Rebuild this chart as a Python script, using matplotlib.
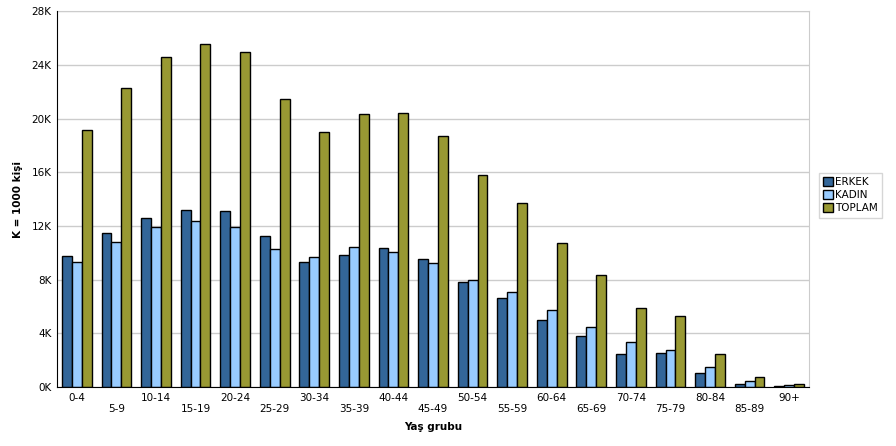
import matplotlib
matplotlib.use("Agg")
import matplotlib.pyplot as plt
import numpy as np

# age groups and population (thousands)
age_groups = ["0-4", "5-9", "10-14", "15-19", "20-24", "25-29", "30-34", "35-39",
              "40-44", "45-49", "50-54", "55-59", "60-64", "65-69", "70-74",
              "75-79", "80-84", "85-89", "90+"]
erkek = [9780, 11480, 12620, 13220, 13140, 11280, 9310, 9830, 10360, 9540,
         7820, 6620, 4980, 3790, 2440, 2520, 1020, 200, 70]
kadin = [9330, 10810, 11950, 12370, 11950, 10280, 9690, 10460, 10060, 9240,
         7970, 7070, 5730, 4460, 3340, 2760, 1490, 420, 150]
toplam = [19170, 22310, 24620, 25590, 25000, 21490, 19020, 20360, 20440, 18720,
          15810, 13720, 10730, 8340, 5880, 5280, 2440, 750, 200]
y_ticks = [0, 4000, 8000, 12000, 16000, 20000, 24000, 28000]

series = [("ERKEK", erkek, "#336699"),
          ("KADIN", kadin, "#99ccff"),
          ("TOPLAM", toplam, "#999933")]

plt.rcParams["font.family"] = ["DejaVu Sans"]

fig = plt.figure(figsize=(8.96, 4.46), dpi=100)
ax = fig.add_axes([57 / 896, 1 - 387 / 446, (809 - 57) / 896, (387 - 11.5) / 446])

x = np.arange(len(age_groups))
w = 0.25
for i, (name, vals, color) in enumerate(series):
    ax.bar(x + (i - 1) * w, vals, width=w, color=color, edgecolor="black",
           linewidth=1.0, label=name, zorder=3)

ax.set_xlim(-0.5, len(age_groups) - 0.5)
ax.set_ylim(0, 28000)
ax.set_yticks(y_ticks)
ax.set_yticklabels([f"{v // 1000}K" for v in y_ticks], fontsize=7.5)
ax.set_xticks(x)
ax.set_xticklabels([lab if i % 2 == 0 else "\n" + lab for i, lab in enumerate(age_groups)],
                   fontsize=7.5, linespacing=1.2)
ax.tick_params(axis="both", length=0, pad=4)

ax.grid(axis="y", color="#cccccc", linewidth=1.0, zorder=0)
for s in ["top", "right"]:
    ax.spines[s].set_color("#cccccc")
for s in ["left", "bottom"]:
    ax.spines[s].set_color("black")
    ax.spines[s].set_zorder(4)

ax.set_xlabel("Yaş grubu", fontsize=7.5, fontweight="bold", labelpad=6)
ax.set_ylabel("K = 1000 kişi", fontsize=7.5, fontweight="bold", labelpad=6)

leg = fig.legend(loc="upper left", bbox_to_anchor=(819 / 896, 1 - 173 / 446),
                 fontsize=7.5, frameon=True, fancybox=False, handlelength=0.9,
                 handleheight=0.9, handletextpad=0.2, borderpad=0.4,
                 labelspacing=0.3, borderaxespad=0)
leg.get_frame().set_edgecolor("#cccccc")
leg.get_frame().set_linewidth(1.0)

fig.savefig("out.png", dpi=100)
